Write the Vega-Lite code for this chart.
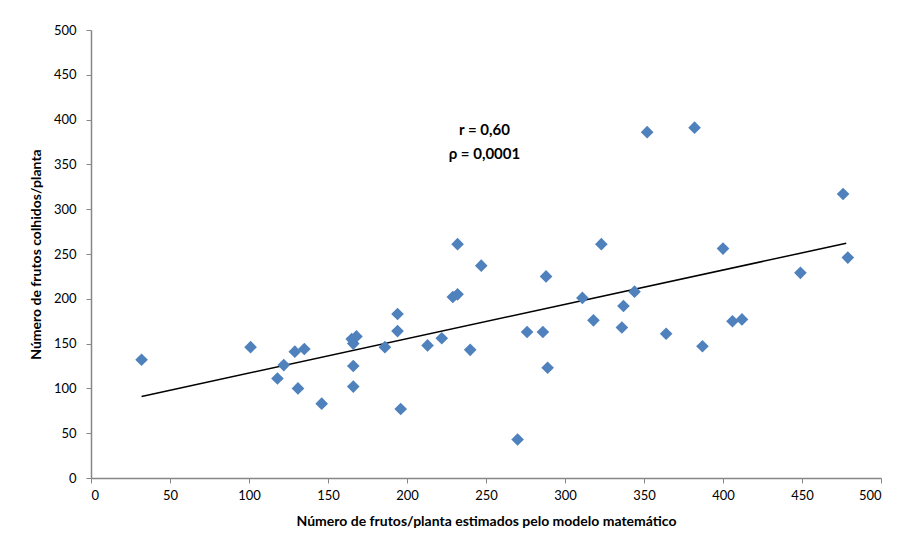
{
  "$schema": "https://vega.github.io/schema/vega-lite/v6.json",
  "autosize": {"type": "none"},
  "width": 790,
  "height": 448,
  "padding": {"left": 91, "top": 30, "right": 25, "bottom": 79},
  "background": "white",
  "config": {
    "view": {"stroke": null},
    "font": "Lato"
  },
  "datasets": {
    "pts": [
      {"est": 32, "obs": 132}, {"est": 101, "obs": 146}, {"est": 118, "obs": 111}, {"est": 122, "obs": 126},
      {"est": 129, "obs": 141}, {"est": 131, "obs": 100}, {"est": 135, "obs": 144}, {"est": 146, "obs": 83},
      {"est": 165, "obs": 155}, {"est": 166, "obs": 150}, {"est": 168, "obs": 158}, {"est": 166, "obs": 125},
      {"est": 166, "obs": 102}, {"est": 186, "obs": 146}, {"est": 194, "obs": 183}, {"est": 194, "obs": 164},
      {"est": 196, "obs": 77}, {"est": 213, "obs": 148}, {"est": 222, "obs": 156}, {"est": 229, "obs": 202},
      {"est": 232, "obs": 205}, {"est": 232, "obs": 261}, {"est": 240, "obs": 143}, {"est": 247, "obs": 237},
      {"est": 270, "obs": 43}, {"est": 276, "obs": 163}, {"est": 286, "obs": 163}, {"est": 288, "obs": 225},
      {"est": 289, "obs": 123}, {"est": 311, "obs": 201}, {"est": 318, "obs": 176}, {"est": 323, "obs": 261},
      {"est": 336, "obs": 168}, {"est": 337, "obs": 192}, {"est": 344, "obs": 208}, {"est": 352, "obs": 386},
      {"est": 364, "obs": 161}, {"est": 382, "obs": 391}, {"est": 387, "obs": 147}, {"est": 400, "obs": 256},
      {"est": 406, "obs": 175}, {"est": 412, "obs": 177}, {"est": 449, "obs": 229}, {"est": 476, "obs": 317},
      {"est": 479, "obs": 246}
    ],
    "fit": [
      {"est": 32, "obs": 91},
      {"est": 478, "obs": 262}
    ],
    "notes": [
      {"est": 249, "obs": 388, "label": "r = 0,60"},
      {"est": 249, "obs": 362, "label": "ρ = 0,0001"}
    ]
  },
  "layer": [
    {
      "data": {"name": "fit"},
      "mark": {"type": "line", "color": "black", "strokeWidth": 1.5},
      "encoding": {
        "x": {"field": "est", "type": "quantitative"},
        "y": {"field": "obs", "type": "quantitative"}
      }
    },
    {
      "data": {"name": "pts"},
      "mark": {"type": "point", "shape": "diamond", "filled": true, "color": "#4F81BD", "size": 160, "opacity": 1},
      "encoding": {
        "x": {
          "field": "est", "type": "quantitative",
          "scale": {"domain": [0, 500], "nice": false, "zero": true},
          "axis": {
            "title": "Número de frutos/planta estimados pelo modelo matemático",
            "values": [0, 50, 100, 150, 200, 250, 300, 350, 400, 450, 500],
            "grid": false,
            "domainColor": "#868686", "domainWidth": 1.5,
            "tickColor": "#868686", "tickSize": 5,
            "labelFontSize": 13, "labelColor": "black", "labelPadding": 6,
            "labelFont": "Lato",
            "titleFont": "Lato", "titleFontSize": 14, "titleFontWeight": "bold",
            "titleColor": "black", "titlePadding": 12
          }
        },
        "y": {
          "field": "obs", "type": "quantitative",
          "scale": {"domain": [0, 500], "nice": false},
          "axis": {
            "title": "Número de frutos colhidos/planta",
            "values": [0, 50, 100, 150, 200, 250, 300, 350, 400, 450, 500],
            "grid": false,
            "domainColor": "#868686", "domainWidth": 1.5,
            "tickColor": "#868686", "tickSize": 5,
            "labelFontSize": 13, "labelColor": "black", "labelPadding": 10,
            "labelFont": "Lato",
            "titleFont": "Lato", "titleFontSize": 14, "titleFontWeight": "bold",
            "titleColor": "black", "titlePadding": 10
          }
        }
      }
    },
    {
      "data": {"name": "notes"},
      "mark": {"type": "text", "font": "Lato", "fontSize": 15, "fontWeight": "bold", "color": "black", "align": "center", "baseline": "middle"},
      "encoding": {
        "x": {"field": "est", "type": "quantitative"},
        "y": {"field": "obs", "type": "quantitative"},
        "text": {"field": "label"}
      }
    }
  ]
}
